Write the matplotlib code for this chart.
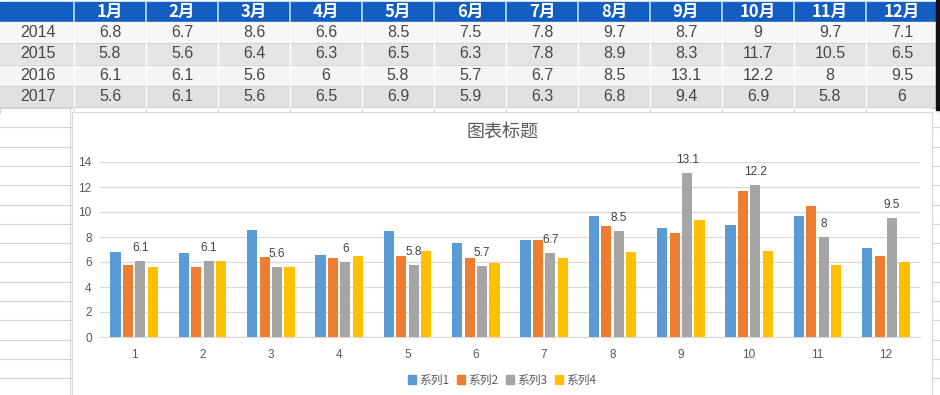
import matplotlib
matplotlib.use("Agg")
import matplotlib.pyplot as plt
from matplotlib.patches import Rectangle, Patch
import numpy as np

months = ["1月", "2月", "3月", "4月", "5月", "6月", "7月", "8月", "9月", "10月", "11月", "12月"]
years = ["2014", "2015", "2016", "2017"]
v2014 = [6.8, 6.7, 8.6, 6.6, 8.5, 7.5, 7.8, 9.7, 8.7, 9, 9.7, 7.1]
v2015 = [5.8, 5.6, 6.4, 6.3, 6.5, 6.3, 7.8, 8.9, 8.3, 11.7, 10.5, 6.5]
v2016 = [6.1, 6.1, 5.6, 6, 5.8, 5.7, 6.7, 8.5, 13.1, 12.2, 8, 9.5]
v2017 = [5.6, 6.1, 5.6, 6.5, 6.9, 5.9, 6.3, 6.8, 9.4, 6.9, 5.8, 6]
cats = ["1", "2", "3", "4", "5", "6", "7", "8", "9", "10", "11", "12"]
series_names = ["系列1", "系列2", "系列3", "系列4"]
yticks = [0, 2, 4, 6, 8, 10, 12, 14]
title = "图表标题"

colors = ["#5B9BD5", "#ED7D31", "#A5A5A5", "#FFC000"]
CJK = ["Noto Sans CJK SC", "DejaVu Sans"]
LAT = ["Liberation Sans", "DejaVu Sans"]

W, H = 940, 395
fig = plt.figure(figsize=(W / 100, H / 100), dpi=100)
fig.patch.set_facecolor("white")

bg = fig.add_axes([0, 0, 1, 1])
bg.set_xlim(0, W)
bg.set_ylim(H, 0)
bg.axis("off")

col_edges = [0, 74] + [74 + 72 * (i + 1) for i in range(12)]
for k in range(16):
    y = 108 + 19.3 * k
    bg.plot([0, 72], [y, y], color="#D4D4D4", lw=0.8)
    bg.plot([932, 940], [y, y], color="#D4D4D4", lw=0.8)
for xe in col_edges:
    bg.plot([xe, xe], [107, 113], color="#D4D4D4", lw=0.8)
bg.plot([70, 70], [107, H], color="#D4D4D4", lw=0.8)

header_top, header_bot = 2, 22
row_edges = [22, 43, 65, 86, 107]
bg.add_patch(Rectangle((0, header_top), 936, header_bot - header_top, color="#135EC0", zorder=1))
row_colors = ["#F7F7F7", "#E4E4E4", "#F5F5F5", "#E1E1E1"]
for r in range(4):
    bg.add_patch(Rectangle((0, row_edges[r]), 936, row_edges[r + 1] - row_edges[r],
                           color=row_colors[r], zorder=1))
    bg.plot([0, 936], [row_edges[r + 1], row_edges[r + 1]], color="#D0D0D0", lw=0.6, zorder=2)
for xe in col_edges[1:]:
    bg.plot([xe, xe], [header_top, header_bot], color="#A8E4F2", lw=1.2, zorder=2)
    bg.plot([xe, xe], [header_bot, 107], color="#FFFFFF", lw=1.0, zorder=2)
bg.add_patch(Rectangle((936, 0), 4, 110, color="#111111", zorder=3))

for i, m in enumerate(months):
    cx = 74 + 72 * i + 36
    bg.text(cx, 12, m, ha="center", va="center", color="white", fontsize=12,
            fontweight="bold", family=CJK, zorder=3)
rows = [v2014, v2015, v2016, v2017]
for r in range(4):
    cy = (row_edges[r] + row_edges[r + 1]) / 2
    bg.text(38, cy, years[r], ha="center", va="center", color="#474747", fontsize=11.5,
            family=LAT, zorder=3)
    for i, v in enumerate(rows[r]):
        cx = 74 + 72 * i + 36
        bg.text(cx, cy, f"{v:g}", ha="center", va="center", color="#474747", fontsize=11.5,
                family=LAT, zorder=3)

bg.add_patch(Rectangle((72, 112), 860, 290, facecolor="white", edgecolor="#D9D9D9", lw=0.8, zorder=4))
bg.text(503, 133, title, ha="center", va="center", color="#595959", fontsize=13,
        family=CJK, zorder=5)

x0, x1 = 100, 920
ytop, ybot = 162, 337
ax = fig.add_axes([x0 / W, (H - ybot) / H, (x1 - x0) / W, (ybot - ytop) / H])
ax.set_zorder(6)
ax.patch.set_alpha(0)
x = np.arange(len(cats))
width = 0.148
step = 0.182
data = [v2014, v2015, v2016, v2017]
for s in range(4):
    ax.bar(x + (s - 1.5) * step, data[s], width, color=colors[s], zorder=3,
           label=series_names[s])
    if s == 2:
        for xi, v in zip(x, data[s]):
            ax.annotate(f"{v:g}", (xi + (s - 1.5) * step, v), xytext=(0, 5),
                        textcoords="offset points", ha="center", va="bottom",
                        fontsize=8.5, color="#404040", family=LAT, annotation_clip=False)
ax.set_xlim(-0.5, 11.5)
ax.set_ylim(0, 14)
ax.set_yticks(yticks)
ax.set_xticks(x)
ax.set_xticklabels(cats)
ax.yaxis.grid(True, color="#D9D9D9", lw=0.9, zorder=0)
ax.set_axisbelow(True)
for sp in ["top", "right", "left"]:
    ax.spines[sp].set_visible(False)
ax.spines["bottom"].set_color("#D9D9D9")
ax.tick_params(axis="both", length=0, colors="#595959", labelsize=8.5)
ax.tick_params(axis="x", pad=9)
ax.tick_params(axis="y", pad=6)
for lab in ax.get_xticklabels() + ax.get_yticklabels():
    lab.set_family(LAT)

handles = [Patch(color=c) for c in colors]
leg = fig.legend(handles, series_names, loc="center", bbox_to_anchor=(502 / W, (H - 380) / H),
                 ncol=4, frameon=False, handlelength=0.7, handleheight=0.7, handletextpad=0.3,
                 columnspacing=0.6, prop={"family": CJK, "size": 8.5})
for t in leg.get_texts():
    t.set_color("#595959")
leg.set_zorder(7)

fig.savefig("out.png", dpi=100)
